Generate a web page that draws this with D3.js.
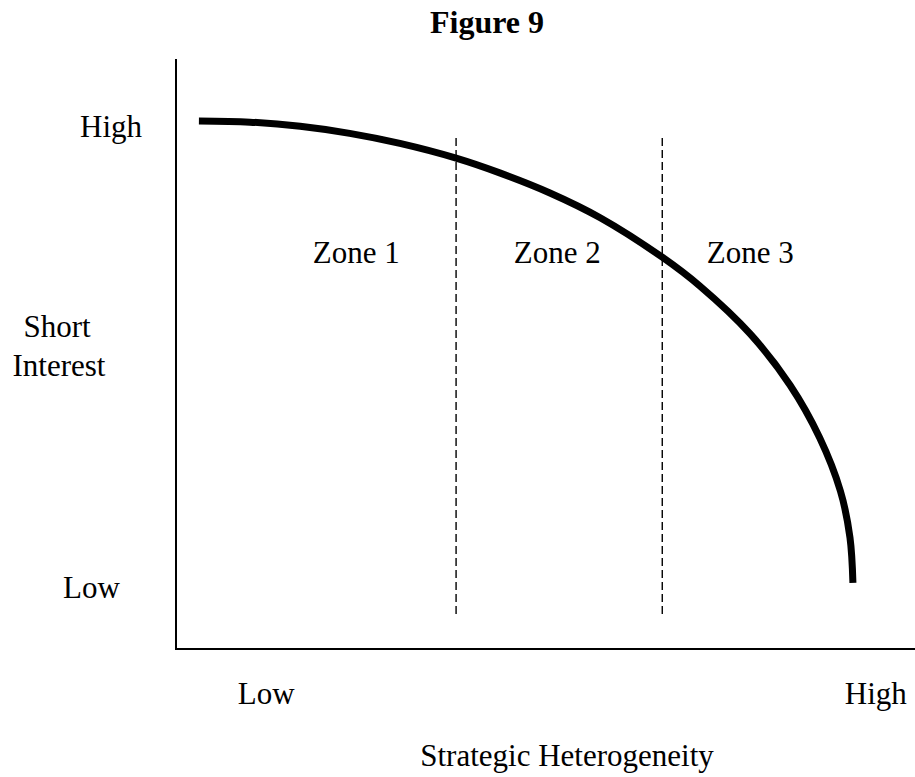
<!DOCTYPE html>
<html>
<head>
<meta charset="utf-8">
<title>Figure 9</title>
<script src="https://cdn.jsdelivr.net/npm/d3@7"></script>
<style>
  body { margin: 0; background: #fff; }
  text { font-family: "Liberation Serif", "Times New Roman", serif; fill: #000; }
</style>
</head>
<body>
<div id="chart"></div>
<script>
var width = 915, height = 777;

// curve (0-100 on both axes)
var curveX = [3.1, 10.0, 16.8, 23.5, 30.3, 37.9, 43.8, 50.6, 57.4, 65.8, 70.9, 77.7, 83.1, 87.1, 89.9, 91.2, 91.6];
var curveY = [89.5, 89.3, 88.6, 87.4, 85.7, 83.2, 80.7, 77.3, 73.1, 66.4, 61.5, 53.4, 44.7, 35.8, 26.8, 18.9, 11.2];

// zone boundaries and labels
var zoneBounds = [37.9, 65.8];
var zoneNames = ["Zone 1", "Zone 2", "Zone 3"];
var zoneCenters = [24.4, 51.6, 77.7];

var xTickLabels = ["Low", "High"];
var xTickValues = [12.2, 94.7];
var yTickLabels = ["Low", "High"];
var yTickValues = [10.5, 88.6];

var svg = d3.select("#chart").append("svg")
  .attr("width", width)
  .attr("height", height);

var x = d3.scaleLinear().domain([0, 100]).range([176, 915]);
var y = d3.scaleLinear().domain([0, 100]).range([649, 59]);

// title
svg.append("text")
  .attr("x", 487).attr("y", 33)
  .attr("text-anchor", "middle")
  .style("font-size", "32px").style("font-weight", "bold")
  .text("Figure 9");

// axes (just the lines)
svg.append("line")
  .attr("x1", x(0)).attr("x2", x(0))
  .attr("y1", y(100)).attr("y2", y(0))
  .attr("stroke", "#000").attr("stroke-width", 2);
svg.append("line")
  .attr("x1", x(0) - 1).attr("x2", x(100))
  .attr("y1", y(0)).attr("y2", y(0))
  .attr("stroke", "#000").attr("stroke-width", 2);

// dashed zone lines
svg.selectAll("line.zone").data(zoneBounds).enter().append("line")
  .attr("class", "zone")
  .attr("x1", function(d) { return x(d); })
  .attr("x2", function(d) { return x(d); })
  .attr("y1", y(86.6)).attr("y2", y(5.4))
  .attr("stroke", "#000").attr("stroke-width", 1.4)
  .attr("stroke-dasharray", "8,4");

// the curve
var pts = curveX.map(function(d, i) { return [d, curveY[i]]; });
var line = d3.line()
  .x(function(d) { return x(d[0]); })
  .y(function(d) { return y(d[1]); })
  .curve(d3.curveCatmullRom);
svg.append("path")
  .datum(pts)
  .attr("d", line)
  .attr("fill", "none")
  .attr("stroke", "#000")
  .attr("stroke-width", 7);

// zone labels
svg.selectAll("text.zlab").data(zoneNames).enter().append("text")
  .attr("class", "zlab")
  .attr("x", function(d, i) { return x(zoneCenters[i]); })
  .attr("y", 263)
  .attr("text-anchor", "middle")
  .style("font-size", "31px")
  .text(function(d) { return d; });

// tick labels
svg.selectAll("text.xt").data(xTickLabels).enter().append("text")
  .attr("class", "xt")
  .attr("x", function(d, i) { return x(xTickValues[i]); })
  .attr("y", 704)
  .attr("text-anchor", "middle")
  .style("font-size", "31px")
  .text(function(d) { return d; });

// left labels sit in loose text boxes, not aligned with each other
svg.selectAll("text.yt").data(yTickLabels).enter().append("text")
  .attr("class", "yt")
  .attr("x", function(d, i) { return i === 0 ? 63 : 80; })
  .attr("y", function(d, i) { return y(yTickValues[i]) + 11; })
  .style("font-size", "31px")
  .text(function(d) { return d; });

// axis titles
svg.append("text")
  .attr("x", 567).attr("y", 766)
  .attr("text-anchor", "middle")
  .style("font-size", "31px")
  .text("Strategic Heterogeneity");

var yt = svg.append("text")
  .attr("text-anchor", "middle")
  .style("font-size", "31px");
yt.append("tspan").attr("x", 57).attr("y", 337).text("Short");
yt.append("tspan").attr("x", 59).attr("y", 376).text("Interest");
</script>
</body>
</html>
